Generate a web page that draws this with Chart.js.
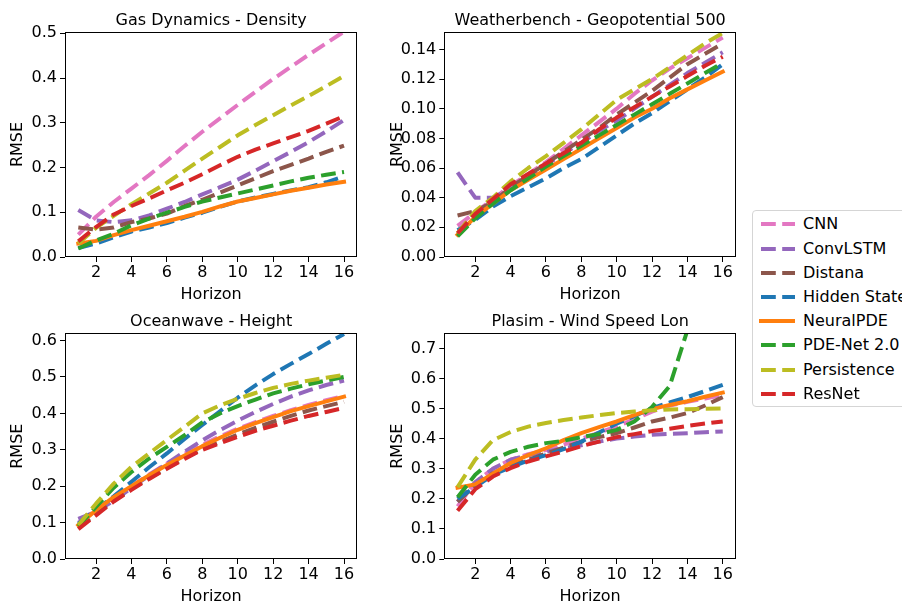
<!DOCTYPE html>
<html>
<head>
<meta charset="utf-8">
<script src="https://cdn.jsdelivr.net/npm/chart.js@4.4.1/dist/chart.umd.min.js"></script>
<style>
  html, body { margin: 0; padding: 0; background: #fff; }
  body { width: 902px; height: 606px; position: relative; overflow: hidden; font-family: "DejaVu Sans", sans-serif; }
  canvas { position: absolute; }
  #legend { position: absolute; left: 752px; top: 210px; width: 170px; height: 197px; border: 1px solid #d5d5d5; border-radius: 4px; background: #fff; box-sizing: border-box; }
  .row { position: absolute; left: 0; height: 24px; line-height: 24px; font-size: 16px; color: #000; white-space: nowrap; }
  .row svg { position: absolute; left: 4px; top: 10px; }
  .row span { position: absolute; left: 50px; top: 0; }
</style>
</head>
<body>
<canvas id="c1"></canvas>
<canvas id="c2"></canvas>
<canvas id="c3"></canvas>
<canvas id="c4"></canvas>
<div id="legend"></div>
<script>
// ---------------- data ----------------
const horizon = [1,2,3,4,5,6,7,8,9,10,11,12,13,14,15,16];
const seriesNames = ["CNN","ConvLSTM","Distana","Hidden State","NeuralPDE","PDE-Net 2.0","Persistence","ResNet"];
const xTickValues = [2,4,6,8,10,12,14,16];
const xTickLabels = ["2","4","6","8","10","12","14","16"];

// Gas Dynamics - Density
const gas_CNN         = [0.05,0.09,0.123,0.153,0.183,0.215,0.248,0.28,0.31,0.34,0.369,0.398,0.425,0.452,0.478,0.504];
const gas_ConvLSTM    = [0.105,0.082,0.078,0.082,0.093,0.108,0.123,0.14,0.156,0.173,0.193,0.214,0.235,0.257,0.281,0.306];
const gas_Distana     = [0.066,0.061,0.066,0.078,0.086,0.097,0.114,0.128,0.144,0.16,0.176,0.192,0.206,0.22,0.235,0.249];
const gas_Hidden      = [0.02,0.03,0.044,0.057,0.066,0.076,0.088,0.099,0.112,0.124,0.133,0.141,0.149,0.156,0.167,0.18];
const gas_NeuralPDE   = [0.03,0.036,0.049,0.06,0.07,0.08,0.09,0.101,0.113,0.124,0.132,0.14,0.148,0.155,0.162,0.168];
const gas_PDENet      = [0.019,0.037,0.052,0.071,0.086,0.099,0.112,0.124,0.133,0.142,0.151,0.16,0.169,0.177,0.184,0.19];
const gas_Persistence = [0.03,0.065,0.092,0.118,0.142,0.166,0.193,0.22,0.246,0.272,0.295,0.317,0.339,0.36,0.382,0.405];
const gas_ResNet      = [0.035,0.067,0.095,0.114,0.131,0.149,0.166,0.185,0.205,0.224,0.24,0.254,0.268,0.282,0.298,0.315];
const gasYTicks  = [0,0.1,0.2,0.3,0.4,0.5];
const gasYLabels = ["0.0","0.1","0.2","0.3","0.4","0.5"];

// Weatherbench - Geopotential 500
const wb_CNN         = [0.021,0.03,0.039,0.048,0.056,0.064,0.073,0.082,0.091,0.1,0.11,0.119,0.127,0.134,0.141,0.148];
const wb_ConvLSTM    = [0.057,0.04,0.04,0.046,0.054,0.062,0.07,0.077,0.085,0.092,0.1,0.108,0.116,0.124,0.131,0.138];
const wb_Distana     = [0.028,0.031,0.037,0.047,0.055,0.063,0.071,0.079,0.087,0.096,0.104,0.112,0.121,0.13,0.137,0.144];
const wb_Hidden      = [0.018,0.025,0.034,0.041,0.047,0.053,0.06,0.066,0.074,0.082,0.09,0.097,0.105,0.113,0.121,0.13];
const wb_NeuralPDE   = [0.015,0.027,0.036,0.045,0.052,0.059,0.066,0.073,0.08,0.087,0.094,0.1,0.107,0.113,0.119,0.125];
const wb_PDENet      = [0.014,0.026,0.036,0.045,0.053,0.061,0.068,0.075,0.082,0.089,0.096,0.103,0.11,0.117,0.124,0.131];
const wb_Persistence = [0.016,0.031,0.04,0.051,0.06,0.068,0.077,0.086,0.096,0.106,0.113,0.12,0.128,0.136,0.144,0.151];
const wb_ResNet      = [0.016,0.029,0.039,0.049,0.056,0.063,0.07,0.077,0.086,0.094,0.101,0.108,0.115,0.122,0.129,0.135];
const wbYTicks  = [0,0.02,0.04,0.06,0.08,0.10,0.12,0.14];
const wbYLabels = ["0.00","0.02","0.04","0.06","0.08","0.10","0.12","0.14"];

// Oceanwave - Height
const ow_CNN         = [0.1,0.132,0.168,0.2,0.232,0.262,0.289,0.314,0.337,0.358,0.376,0.393,0.409,0.423,0.436,0.448];
const ow_ConvLSTM    = [0.11,0.13,0.16,0.195,0.23,0.262,0.295,0.326,0.354,0.38,0.404,0.426,0.446,0.463,0.478,0.49];
const ow_Distana     = [0.085,0.125,0.16,0.193,0.222,0.25,0.277,0.302,0.322,0.342,0.36,0.377,0.393,0.408,0.42,0.432];
const ow_Hidden      = [0.097,0.135,0.172,0.212,0.252,0.29,0.33,0.368,0.406,0.443,0.477,0.508,0.536,0.563,0.591,0.618];
const ow_NeuralPDE   = [0.093,0.134,0.17,0.2,0.23,0.258,0.284,0.31,0.333,0.355,0.373,0.39,0.406,0.42,0.433,0.446];
const ow_PDENet      = [0.09,0.143,0.196,0.239,0.276,0.308,0.34,0.375,0.4,0.42,0.438,0.455,0.468,0.48,0.49,0.5];
const ow_Persistence = [0.093,0.152,0.207,0.253,0.29,0.327,0.363,0.4,0.422,0.44,0.456,0.47,0.481,0.49,0.498,0.506];
const ow_ResNet      = [0.082,0.12,0.158,0.19,0.22,0.248,0.275,0.3,0.318,0.336,0.352,0.366,0.38,0.393,0.404,0.415];
const owYTicks  = [0,0.1,0.2,0.3,0.4,0.5,0.6];
const owYLabels = ["0.0","0.1","0.2","0.3","0.4","0.5","0.6"];

// Plasim - Wind Speed Lon
const pl_CNN         = [0.175,0.255,0.3,0.33,0.348,0.362,0.38,0.4,0.42,0.44,0.465,0.49,0.51,0.522,0.533,0.545];
const pl_ConvLSTM    = [0.19,0.255,0.3,0.33,0.345,0.357,0.368,0.378,0.39,0.4,0.407,0.413,0.416,0.418,0.421,0.424];
const pl_Distana     = [0.19,0.245,0.285,0.31,0.33,0.35,0.37,0.39,0.405,0.418,0.437,0.457,0.47,0.485,0.51,0.538];
const pl_Hidden      = [0.2,0.239,0.28,0.305,0.327,0.345,0.365,0.39,0.42,0.45,0.475,0.501,0.52,0.538,0.558,0.579];
const pl_NeuralPDE   = [0.237,0.248,0.283,0.319,0.345,0.368,0.395,0.418,0.438,0.457,0.478,0.498,0.512,0.524,0.539,0.553];
const pl_PDENet      = [0.205,0.28,0.33,0.356,0.373,0.385,0.393,0.405,0.415,0.429,0.457,0.505,0.575,0.76,1.2,2.0];
const pl_Persistence = [0.239,0.33,0.395,0.422,0.44,0.452,0.462,0.47,0.478,0.485,0.49,0.494,0.497,0.498,0.499,0.5];
const pl_ResNet      = [0.16,0.232,0.274,0.302,0.324,0.341,0.357,0.375,0.39,0.405,0.415,0.425,0.433,0.442,0.45,0.457];
const plYTicks  = [0,0.1,0.2,0.3,0.4,0.5,0.6,0.7];
const plYLabels = ["0.0","0.1","0.2","0.3","0.4","0.5","0.6","0.7"];

// ---------------- styles ----------------
const seriesColors = ["#e377c2","#9467bd","#8c564b","#1f77b4","#ff7f0e","#2ca02c","#bcbd22","#d62728"];
const seriesSolid  = [false,false,false,false,true,false,false,false];
const LW = 4;
const DASH = [14.8, 6.4];
const FONT = "DejaVu Sans";

Chart.defaults.font.family = FONT;
Chart.defaults.font.size = 16;
Chart.defaults.color = "#000";

const framePlugin = {
  id: "frameTitle",
  afterDraw(chart, args, opts) {
    const ca = chart.chartArea, ctx = chart.ctx;
    ctx.save();
    ctx.strokeStyle = "#000";
    ctx.lineWidth = 1;
    const l = Math.round(ca.left) + 0.5, t = Math.round(ca.top) + 0.5;
    const r = Math.round(ca.right) - 0.5, b = Math.round(ca.bottom) - 0.5;
    ctx.strokeRect(l, t, r - l, b - t);
    ctx.fillStyle = "#000";
    ctx.font = "16px '" + FONT + "'";
    ctx.textAlign = "center";
    ctx.textBaseline = "middle";
    ctx.fillText(opts.text, (ca.left + ca.right) / 2, ca.top - 11);
    ctx.restore();
  }
};

function makeChart(id, box, area, title, seriesList, yMax, yTicks, yLabels) {
  const cv = document.getElementById(id);
  cv.width = box.w; cv.height = box.h;
  cv.style.left = box.x + "px"; cv.style.top = box.y + "px";
  const yWidth = area.l - box.x;
  const xHeight = box.y + box.h - area.b;
  const datasets = seriesList.map((vals, i) => ({
    label: seriesNames[i],
    data: vals.map((v, k) => ({ x: horizon[k], y: v })),
    borderColor: seriesColors[i],
    backgroundColor: seriesColors[i],
    borderWidth: LW,
    borderDash: seriesSolid[i] ? [] : DASH,
    borderCapStyle: seriesSolid[i] ? "square" : "butt",
    borderJoinStyle: "round",
    pointRadius: 0,
    tension: 0,
    fill: false,
    clip: 0,
    order: seriesList.length - i
  }));
  return new Chart(cv, {
    type: "line",
    data: { datasets },
    plugins: [framePlugin],
    options: {
      responsive: false,
      animation: false,
      devicePixelRatio: 1,
      layout: {
        autoPadding: false,
        padding: { left: 0, top: area.t - box.y, right: box.x + box.w - area.r, bottom: 0 }
      },
      plugins: {
        legend: { display: false },
        tooltip: { enabled: false },
        frameTitle: { text: title }
      },
      scales: {
        x: {
          type: "linear",
          min: 0.25, max: 16.75,
          afterBuildTicks: s => { s.ticks = xTickValues.map(v => ({ value: v })); },
          afterFit: s => { s.height = xHeight; },
          grid: { display: true, drawOnChartArea: false, drawTicks: true, tickLength: 5, tickWidth: 1, tickColor: "#000" },
          border: { display: false },
          ticks: { padding: 1, color: "#000", maxRotation: 0, autoSkip: false,
                   font: { size: 16, family: FONT },
                   callback: (v, i) => xTickLabels[i] },
          title: { display: true, text: "Horizon", color: "#000", font: { size: 16, family: FONT }, padding: { top: 0, bottom: 0 } }
        },
        y: {
          type: "linear",
          min: 0, max: yMax,
          afterBuildTicks: s => { s.ticks = yTicks.map(v => ({ value: v })); },
          afterFit: s => { s.width = yWidth; },
          grid: { display: true, drawOnChartArea: false, drawTicks: true, tickLength: 5, tickWidth: 1, tickColor: "#000" },
          border: { display: false },
          ticks: { padding: 3, color: "#000", autoSkip: false,
                   font: { size: 16, family: FONT },
                   callback: (v, i) => yLabels[i] },
          title: { display: true, text: "RMSE", color: "#000", font: { size: 16, family: FONT }, padding: { top: 8.4, bottom: 0 } }
        }
      }
    }
  });
}

makeChart("c1", { x: 0, y: 0, w: 380, h: 304 }, { l: 65, t: 32, r: 357.3, b: 257 },
  "Gas Dynamics - Density",
  [gas_CNN, gas_ConvLSTM, gas_Distana, gas_Hidden, gas_NeuralPDE, gas_PDENet, gas_Persistence, gas_ResNet],
  0.503, gasYTicks, gasYLabels);

makeChart("c2", { x: 380, y: 0, w: 380, h: 304 }, { l: 444.3, t: 32, r: 736, b: 257 },
  "Weatherbench - Geopotential 500",
  [wb_CNN, wb_ConvLSTM, wb_Distana, wb_Hidden, wb_NeuralPDE, wb_PDENet, wb_Persistence, wb_ResNet],
  0.1517, wbYTicks, wbYLabels);

makeChart("c3", { x: 0, y: 302, w: 380, h: 304 }, { l: 65, t: 333.3, r: 357.3, b: 559 },
  "Oceanwave - Height",
  [ow_CNN, ow_ConvLSTM, ow_Distana, ow_Hidden, ow_NeuralPDE, ow_PDENet, ow_Persistence, ow_ResNet],
  0.62, owYTicks, owYLabels);

makeChart("c4", { x: 380, y: 302, w: 380, h: 304 }, { l: 444.3, t: 333.3, r: 736, b: 559 },
  "Plasim - Wind Speed Lon",
  [pl_CNN, pl_ConvLSTM, pl_Distana, pl_Hidden, pl_NeuralPDE, pl_PDENet, pl_Persistence, pl_ResNet],
  0.75, plYTicks, plYLabels);

// ---------------- legend ----------------
const legend = document.getElementById("legend");
seriesNames.forEach((name, i) => {
  const row = document.createElement("div");
  row.className = "row";
  row.style.top = (223.3 - 210 - 12 + 24.2 * i) + "px";
  const dash = seriesSolid[i] ? "" : ` stroke-dasharray="${DASH.join(" ")}"`;
  row.innerHTML = `<svg width="36" height="4" style="overflow:visible"><line x1="${seriesSolid[i] ? 2 : 4}" y1="2" x2="38" y2="2" stroke="${seriesColors[i]}" stroke-width="${LW}"${dash}/></svg><span>${name}</span>`;
  legend.appendChild(row);
});
</script>
</body>
</html>
